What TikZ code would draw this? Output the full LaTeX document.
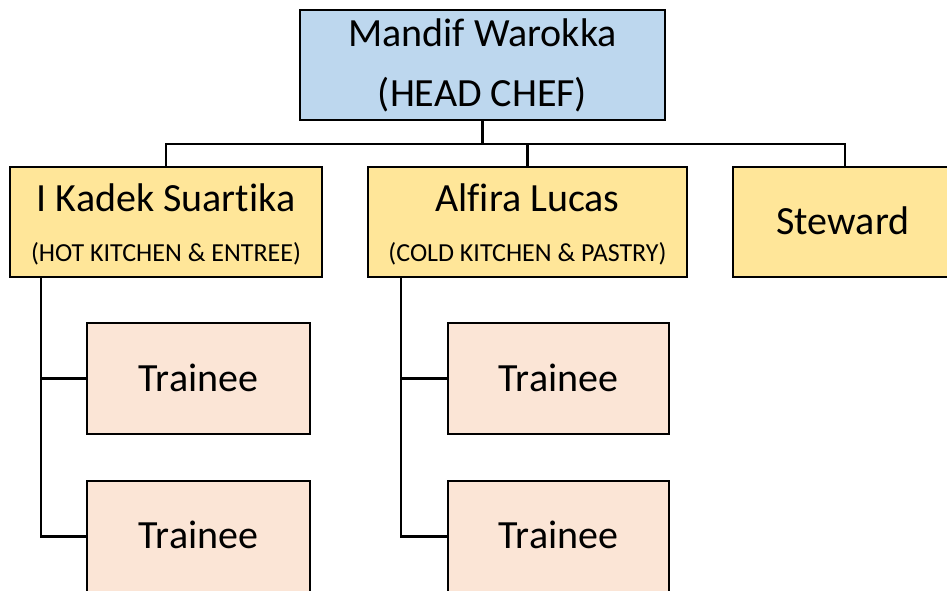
\documentclass[tikz,border=0pt]{standalone}
\usepackage{fontspec}
\setmainfont[Ligatures=NoCommon]{Carlito}
\definecolor{headblue}{HTML}{BDD7EE}
\definecolor{leadyellow}{HTML}{FFE699}
\definecolor{traineepeach}{HTML}{FBE5D6}
\tikzset{
  box/.style={draw=black, line width=2.8pt, rectangle, inner sep=0pt},
  bigtxt/.style={anchor=base, inner sep=0pt, font=\fontsize{40}{48}\selectfont},
  smalltxt/.style={anchor=base, inner sep=0pt, font=\fontsize{26}{31}\selectfont},
  conn/.style={draw=black, line width=2.8pt}
}
\begin{document}
\begin{tikzpicture}[x=1pt,y=-1pt]
\useasboundingbox (0,0) rectangle (947,590);
% boxes
\node[box, fill=headblue, minimum width=365pt, minimum height=110pt] (head) at (482.5,65) {};
\node[box, fill=leadyellow, minimum width=312pt, minimum height=110pt] (kadek) at (166,222) {};
\node[box, fill=leadyellow, minimum width=319pt, minimum height=110pt] (alfira) at (527.5,222) {};
\node[box, fill=leadyellow, minimum width=224pt, minimum height=110pt] (steward) at (845,222) {};
\node[box, fill=traineepeach, minimum width=223pt, minimum height=111pt] (t1) at (198.5,378.5) {};
\node[box, fill=traineepeach, minimum width=223pt, minimum height=111pt] (t2) at (198.5,536.5) {};
\node[box, fill=traineepeach, minimum width=221pt, minimum height=111pt] (t3) at (558.5,378.5) {};
\node[box, fill=traineepeach, minimum width=221pt, minimum height=111pt] (t4) at (558.5,536.5) {};
% texts
\node[bigtxt] (headname) at (482.5,46) {Mandif Warokka};
\node[bigtxt] (headrole) at (482.5,106) {(HEAD CHEF)};
\node[bigtxt] (kadekname) at (166,211) {I Kadek Suartika};
\node[smalltxt] (kadekrole) at (166,261) {(HOT KITCHEN \& ENTREE)};
\node[bigtxt] (alfiraname) at (527.5,211) {Alfira Lucas};
\node[smalltxt] (alfirarole) at (527.5,261) {(COLD KITCHEN \& PASTRY)};
\node[bigtxt] (stewardname) at (843,234) {Steward};
\node[bigtxt] (t1txt) at (198.5,391) {Trainee};
\node[bigtxt] (t2txt) at (198.5,548) {Trainee};
\node[bigtxt] (t3txt) at (558.5,391) {Trainee};
\node[bigtxt] (t4txt) at (558.5,548) {Trainee};
% connectors
\coordinate (bus) at (482.5,144);
\draw[conn] (head.south) -- (bus);
\draw[conn] (kadek.north) -- (kadek.north |- bus) -- (steward.north |- bus) -- (steward.north);
\draw[conn] (alfira.north) -- (alfira.north |- bus);
\coordinate (kspine) at (41,277);
\coordinate (aspine) at (401,277);
\draw[conn] (kspine) |- (t1.west);
\draw[conn] (kspine) |- (t2.west);
\draw[conn] (aspine) |- (t3.west);
\draw[conn] (aspine) |- (t4.west);
\end{tikzpicture}
\end{document}
